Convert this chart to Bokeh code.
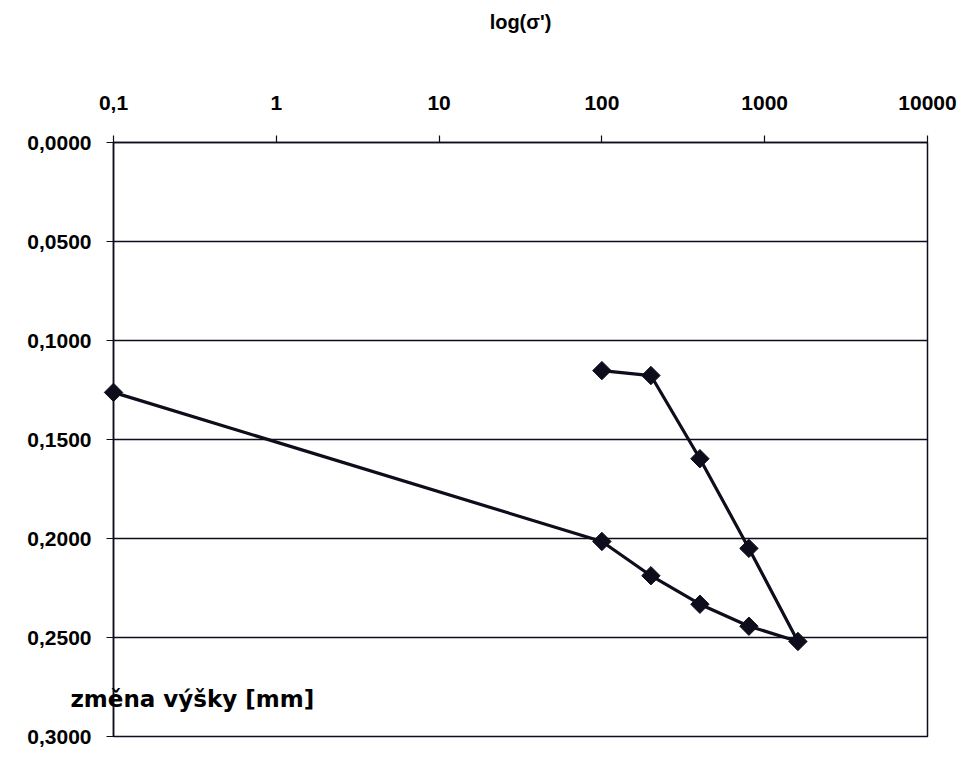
import math
from bokeh.plotting import figure
from bokeh.models import Range1d, FixedTicker, CustomJSTickFormatter
from bokeh.core.properties import value
from bokeh.embed import file_html
from bokeh.resources import INLINE

# data: stress sigma' [kPa] and change of height [mm]
sigma = [0.1, 100, 200, 400, 800, 1600, 800, 400, 200, 100]
dh = [0.1262, 0.2015, 0.2188, 0.2332, 0.2443, 0.2520, 0.2050, 0.1597, 0.1177, 0.1152]

x_ticks = [0.1, 1, 10, 100, 1000, 10000]
y_ticks = [0.0, 0.05, 0.10, 0.15, 0.20, 0.25, 0.30]

x_title = "log(σ')"
y_title = "změna výšky [mm]"

ink = "#0d0d1c"

p = figure(width=960, height=747, output_backend="svg", toolbar_location=None,
           x_axis_type="log", x_axis_location="above",
           x_range=Range1d(0.1, 10000), y_range=Range1d(0.3, 0.0),
           min_border_left=113, min_border_right=33,
           min_border_top=142, min_border_bottom=11)
p.background_fill_color = "white"
p.border_fill_color = "white"
p.outline_line_color = ink
p.outline_line_width = 1.5

for ax in (p.xaxis[0], p.yaxis[0]):
    ax.axis_line_color = ink
    ax.axis_line_width = 1.5
    ax.major_tick_line_color = ink
    ax.major_tick_line_width = 1.2
    ax.major_tick_out = 7
    ax.major_tick_in = 0
    ax.minor_tick_line_color = None
    ax.major_label_text_font = "Liberation Sans"
    ax.major_label_text_font_style = "bold"
    ax.major_label_text_font_size = "21px"
    ax.major_label_text_color = "black"

p.xaxis.ticker = FixedTicker(ticks=x_ticks)
p.xaxis.formatter = CustomJSTickFormatter(code="return tick < 1 ? String(tick).replace('.', ',') : String(Math.round(tick));")
p.xaxis.major_label_standoff = 26
p.xaxis.axis_label = x_title
p.xaxis.axis_label_text_font = "Liberation Sans"
p.xaxis.axis_label_text_font_style = "bold"
p.xaxis.axis_label_text_font_size = "20px"
p.xaxis.axis_label_text_color = "black"
p.xaxis.axis_label_standoff = 60

p.yaxis.ticker = FixedTicker(ticks=y_ticks)
p.yaxis.formatter = CustomJSTickFormatter(code="return tick.toFixed(4).replace('.', ',');")
p.yaxis.major_label_standoff = 15

p.xgrid.grid_line_color = None
p.ygrid.ticker = FixedTicker(ticks=y_ticks)
p.ygrid.grid_line_color = ink
p.ygrid.grid_line_width = 1.5

p.line(sigma, dh, line_color=ink, line_width=3.2)
p.scatter(sigma, dh, marker="square", size=13, angle=math.pi / 4,
          fill_color=ink, line_color=ink, level="overlay")

# axis title placed inside the lower-left corner, as in the original
p.text(x=[0.0544], y=[0.2812], text=[y_title],
       text_font=value("DejaVu Sans"), text_font_style="bold",
       text_font_size="23px", text_color="black",
       text_baseline="alphabetic", text_align="left", level="overlay")

open("out.html", "w").write(file_html(p, INLINE))
